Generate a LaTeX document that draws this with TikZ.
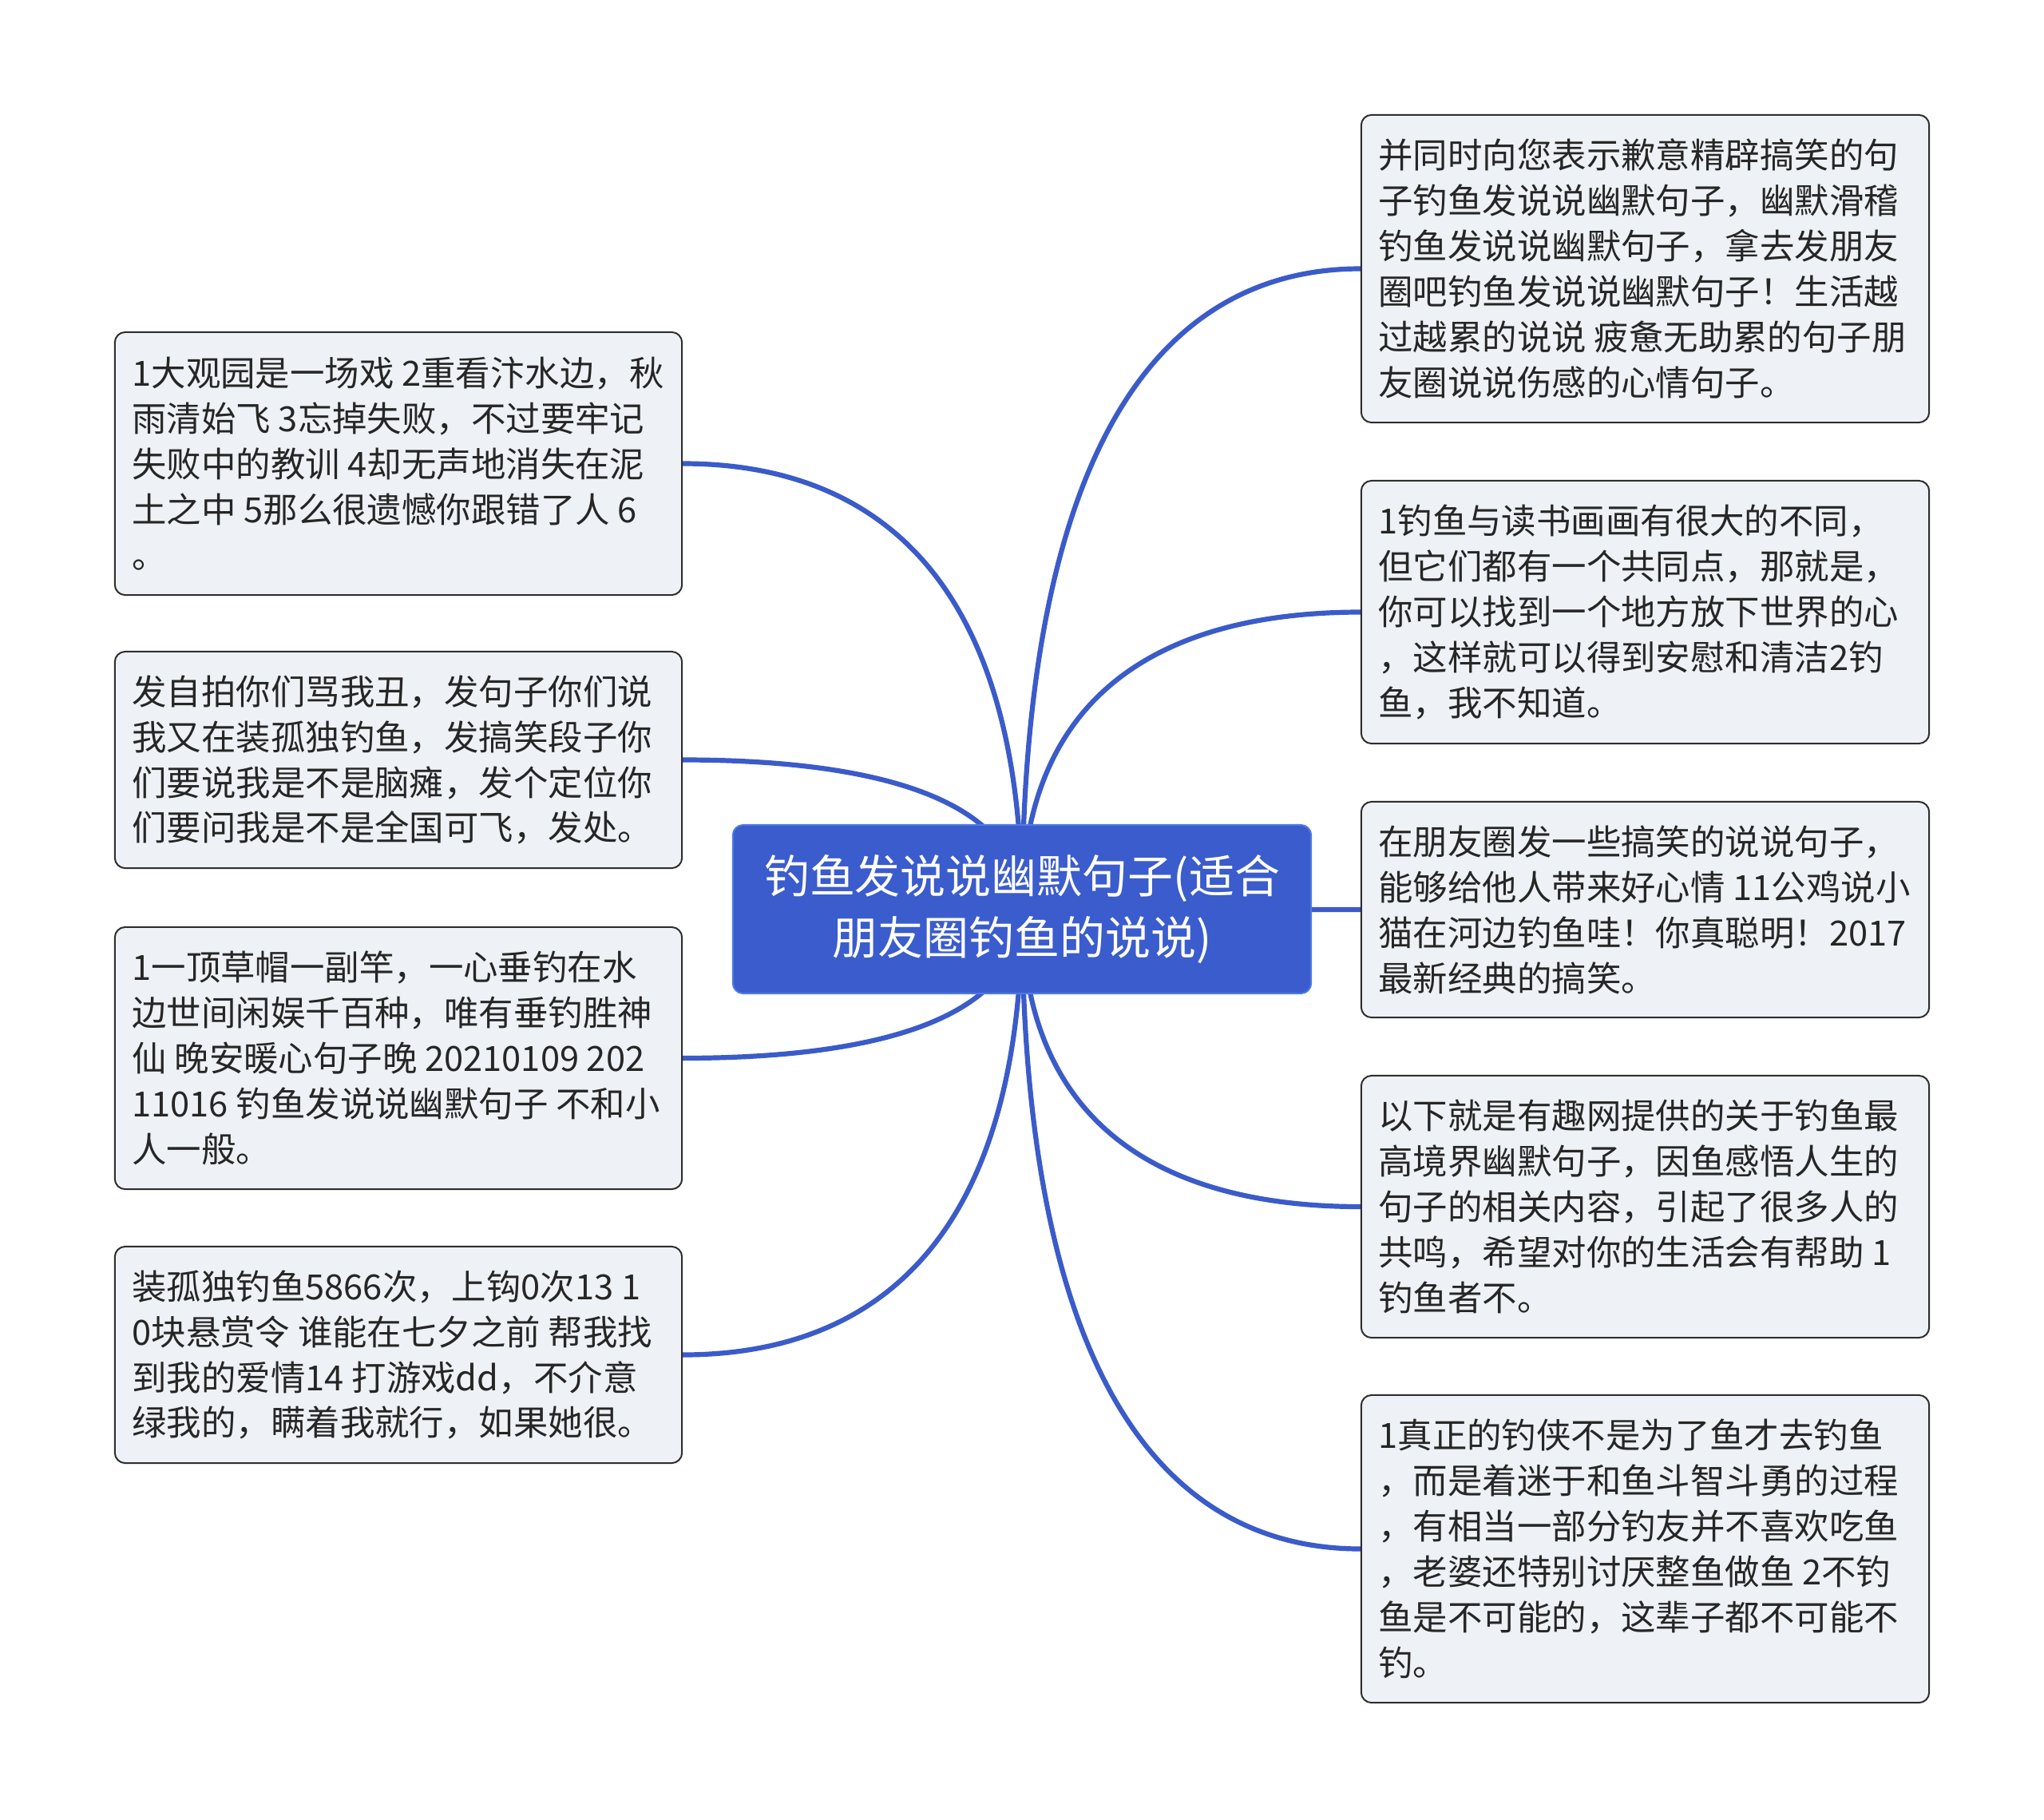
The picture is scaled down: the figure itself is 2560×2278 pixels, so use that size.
\documentclass[tikz,border=0pt]{standalone}
\usepackage{fontspec}
\newfontfamily\cjk{Noto Sans CJK SC}
\usetikzlibrary{backgrounds}
\definecolor{boxfill}{HTML}{EEF1F5}
\definecolor{boxdraw}{HTML}{2E2E2E}
\definecolor{mainblue}{HTML}{3B5CCC}
\definecolor{mainedge}{HTML}{4F7BE3}
\definecolor{linkblue}{HTML}{3A5BC9}
\definecolor{txt}{HTML}{262626}
\begin{document}
\begin{tikzpicture}[x=0.01cm,y=-0.01cm,
  box/.style={draw=boxdraw, line width=0.02cm, fill=boxfill, rounded corners=0.13cm, minimum width=7.1cm, inner sep=0pt},
  btext/.style={font=\cjk\fontsize{12.35}{16.2}\selectfont, text=txt, align=left, inner sep=0pt, anchor=west},
  rootbox/.style={draw=mainedge, line width=0.02cm, fill=mainblue, rounded corners=0.13cm, minimum width=7.24cm, minimum height=2.11cm, font=\cjk\fontsize{16.2}{21.9}\selectfont, text=white, align=center},
  link/.style={draw=linkblue, line width=0.062cm}]
\useasboundingbox (0,0) rectangle (2560,2278);

% central topic
\node[rootbox] (c) at (1280,1138.5) {钓鱼发说说幽默句子(适合\\朋友圈钓鱼的说说)};

% left boxes
\node[box, minimum height=3.29cm] (l1) at (499,580.5) {};
\node[btext] (l1t) at ([xshift=0.22cm]l1.west) {1大观园是一场戏 2重看汴水边，秋\\雨清始飞 3忘掉失败，不过要牢记\\失败中的教训 4却无声地消失在泥\\土之中 5那么很遗憾你跟错了人 6\\。};

\node[box, minimum height=2.71cm] (l2) at (499,951.5) {};
\node[btext] (l2t) at ([xshift=0.22cm]l2.west) {发自拍你们骂我丑，发句子你们说\\我又在装孤独钓鱼，发搞笑段子你\\们要说我是不是脑瘫，发个定位你\\们要问我是不是全国可飞，发处。};

\node[box, minimum height=3.28cm] (l3) at (499,1325) {};
\node[btext] (l3t) at ([xshift=0.22cm]l3.west) {1一顶草帽一副竿，一心垂钓在水\\边世间闲娱千百种，唯有垂钓胜神\\仙 晚安暖心句子晚 20210109 202\\11016 钓鱼发说说幽默句子 不和小\\人一般。};

\node[box, minimum height=2.71cm] (l4) at (499,1696.5) {};
\node[btext] (l4t) at ([xshift=0.22cm]l4.west) {装孤独钓鱼5866次，上钩0次13 1\\0块悬赏令 谁能在七夕之前 帮我找\\到我的爱情14 打游戏dd，不介意\\绿我的，瞒着我就行，如果她很。};

% right boxes
\node[box, minimum width=7.11cm, minimum height=3.85cm] (r1) at (2060.5,336.5) {};
\node[btext] (r1t) at ([xshift=0.22cm]r1.west) {并同时向您表示歉意精辟搞笑的句\\子钓鱼发说说幽默句子，幽默滑稽\\钓鱼发说说幽默句子，拿去发朋友\\圈吧钓鱼发说说幽默句子！生活越\\过越累的说说 疲惫无助累的句子朋\\友圈说说伤感的心情句子。};

\node[box, minimum width=7.11cm, minimum height=3.29cm] (r2) at (2060.5,766.5) {};
\node[btext] (r2t) at ([xshift=0.22cm]r2.west) {1钓鱼与读书画画有很大的不同，\\但它们都有一个共同点，那就是，\\你可以找到一个地方放下世界的心\\，这样就可以得到安慰和清洁2钓\\鱼，我不知道。};

\node[box, minimum width=7.11cm, minimum height=2.70cm] (r3) at (2060.5,1139) {};
\node[btext] (r3t) at ([xshift=0.22cm]r3.west) {在朋友圈发一些搞笑的说说句子，\\能够给他人带来好心情 11公鸡说小\\猫在河边钓鱼哇！你真聪明！2017\\最新经典的搞笑。};

\node[box, minimum width=7.11cm, minimum height=3.28cm] (r4) at (2060.5,1511) {};
\node[btext] (r4t) at ([xshift=0.22cm]r4.west) {以下就是有趣网提供的关于钓鱼最\\高境界幽默句子，因鱼感悟人生的\\句子的相关内容，引起了很多人的\\共鸣，希望对你的生活会有帮助 1\\钓鱼者不。};

\node[box, minimum width=7.11cm, minimum height=3.85cm] (r5) at (2060.5,1939.5) {};
\node[btext] (r5t) at ([xshift=0.22cm]r5.west) {1真正的钓侠不是为了鱼才去钓鱼\\，而是着迷于和鱼斗智斗勇的过程\\，有相当一部分钓友并不喜欢吃鱼\\，老婆还特别讨厌整鱼做鱼 2不钓\\鱼是不可能的，这辈子都不可能不\\钓。};

% connectors (behind the nodes)
\begin{pgfonlayer}{background}
\fill[white] (0,0) rectangle (2560,2278);
\draw[link] (c.center) .. controls (1280,692) and (1067,580.5) .. (l1.east);
\draw[link] (c.center) .. controls (1280,988.8) and (1067,951.5) .. (l2.east);
\draw[link] (c.center) .. controls (1280,1287.7) and (1067,1325) .. (l3.east);
\draw[link] (c.center) .. controls (1280,1584.9) and (1067,1696.5) .. (l4.east);
\draw[link] (c.center) .. controls (1280,496.9) and (1492.5,336.5) .. (r1.west);
\draw[link] (c.center) .. controls (1280,840.9) and (1492.5,766.5) .. (r2.west);
\draw[link] (c.center) -- (r3.west);
\draw[link] (c.center) .. controls (1280,1436.5) and (1492.5,1511) .. (r4.west);
\draw[link] (c.center) .. controls (1280,1779.3) and (1492.5,1939.5) .. (r5.west);
\end{pgfonlayer}
\end{tikzpicture}
\end{document}
